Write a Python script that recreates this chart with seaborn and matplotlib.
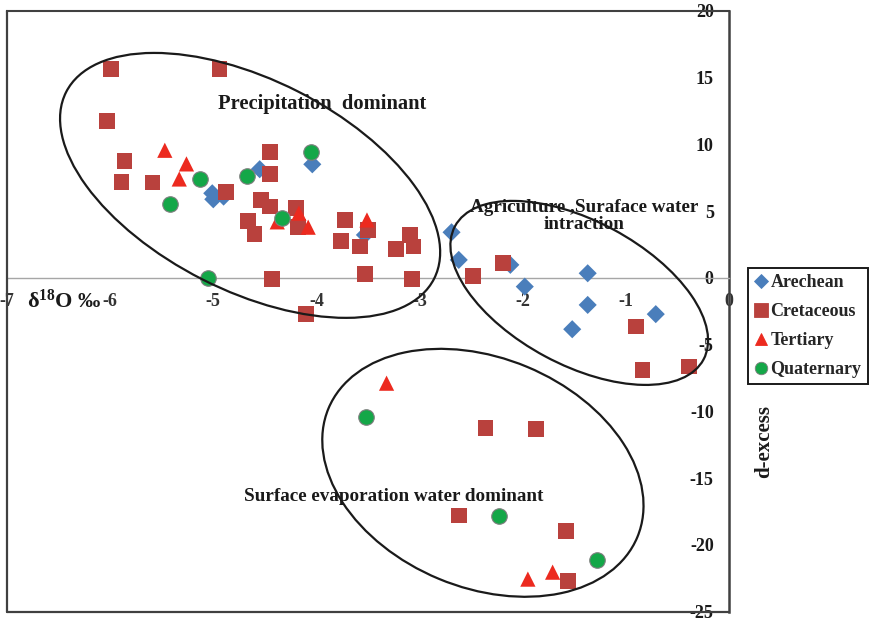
import matplotlib
matplotlib.use("Agg")
import matplotlib.pyplot as plt
import seaborn as sns
import pandas as pd
from matplotlib.lines import Line2D
from matplotlib.patches import Ellipse
from matplotlib.transforms import ScaledTranslation

# ---- isotope data: delta 18O (permil) vs deuterium excess ----
series_names = ["Arechean", "Cretaceous", "Tertiary", "Quaternary"]

arechean_d18o = [-4.55, -4.04, -5.01, -5.00, -4.90, -3.53, -2.69, -2.62, -2.12,
                 -1.98, -1.37, -1.37, -1.52, -0.71]
arechean_dex = [8.13, 8.50, 6.33, 5.88, 6.08, 3.21, 3.41, 1.34, 0.97,
                -0.66, 0.34, -2.03, -3.85, -2.72]

cretaceous_d18o = [-5.99, -4.94, -6.03, -5.86, -5.89, -5.59, -4.88, -4.45, -4.45,
                   -4.54, -4.45, -4.66, -4.60, -4.20, -4.18, -3.72, -3.76, -3.58,
                   -3.50, -3.23, -3.09, -3.06, -4.43, -3.53, -3.07, -4.10, -2.48,
                   -2.19, -0.90, -0.84, -0.39, -2.36, -1.87, -2.62, -1.58, -1.56]
cretaceous_dex = [15.61, 15.61, 11.74, 8.75, 7.20, 7.13, 6.41, 9.40, 7.78,
                  5.83, 5.33, 4.28, 3.30, 5.21, 3.83, 4.33, 2.78, 2.34,
                  3.59, 2.14, 3.21, 2.34, -0.10, 0.27, -0.10, -2.70, 0.16,
                  1.09, -3.65, -6.89, -6.65, -11.26, -11.31, -17.80, -18.94, -22.69]

tertiary_d18o = [-5.47, -5.26, -5.33, -4.17, -4.38, -4.08, -3.51, -3.32, -1.95, -1.71]
tertiary_dex = [9.55, 8.53, 7.40, 4.84, 4.19, 3.79, 4.33, -7.89, -22.56, -22.04]

quaternary_d18o = [-4.05, -5.13, -4.67, -5.42, -4.33, -5.05, -3.52, -2.23, -1.28]
quaternary_dex = [9.45, 7.40, 7.65, 5.51, 4.46, -0.03, -10.43, -17.87, -21.11]

x_ticks = [-7, -6, -5, -4, -3, -2, -1, 0]
y_ticks = [-25, -20, -15, -10, -5, 0, 5, 10, 15, 20]

# ---- styling ----
colors = {"Arechean": "#4a7ebb", "Cretaceous": "#b9413d",
          "Tertiary": "#ec2a1f", "Quaternary": "#14a748"}
markers = {"Arechean": "D", "Cretaceous": "s", "Tertiary": "^", "Quaternary": "o"}
sizes = {"Arechean": 85, "Cretaceous": 128, "Tertiary": 120, "Quaternary": 125}
edges = {"Arechean": "none", "Cretaceous": "none", "Tertiary": "none", "Quaternary": "#7f7f7f"}

sns.set_theme(style="white")
plt.rcParams["font.family"] = ["Liberation Serif", "DejaVu Serif"]
plt.rcParams["font.weight"] = "bold"
plt.rcParams["mathtext.fontset"] = "custom"
plt.rcParams["mathtext.rm"] = "Liberation Serif:bold"
plt.rcParams["mathtext.bf"] = "Liberation Serif:bold"
plt.rcParams["mathtext.it"] = "Liberation Serif:bold:italic"

frames = []
for name, xs, ys in [("Arechean", arechean_d18o, arechean_dex),
                     ("Cretaceous", cretaceous_d18o, cretaceous_dex),
                     ("Tertiary", tertiary_d18o, tertiary_dex),
                     ("Quaternary", quaternary_d18o, quaternary_dex)]:
    frames.append(pd.DataFrame({"d18O": xs, "dexcess": ys, "Series": name}))
df = pd.concat(frames, ignore_index=True)

fig = plt.figure(figsize=(8.7, 6.19), dpi=100)
ax = fig.add_axes([7 / 870, 7.3 / 619, 722 / 870, 601 / 619])

for name in series_names:
    sub = df[df["Series"] == name]
    sns.scatterplot(data=sub, x="d18O", y="dexcess", ax=ax, color=colors[name],
                    marker=markers[name], s=sizes[name], edgecolor=edges[name],
                    linewidth=0.8 if edges[name] != "none" else 0,
                    legend=False, zorder=3)

ax.set_xlim(-7, 0)
ax.set_ylim(-25, 20)
ax.set_xticks(x_ticks)
ax.set_yticks(y_ticks)
ax.set_xticklabels([str(t) for t in x_ticks])
ax.set_yticklabels([str(t) for t in y_ticks])
ax.set_xlabel("")
ax.set_ylabel("")

# axes cross at the origin; the plot area keeps a frame of its own
ax.spines["left"].set_position(("data", 0))
ax.spines["left"].set_color("#404040")
ax.spines["left"].set_linewidth(1.8)
ax.spines["bottom"].set_position(("data", 0))
ax.spines["bottom"].set_color("#a6a6a6")
ax.spines["bottom"].set_linewidth(1.0)
ax.spines["right"].set_visible(False)
ax.spines["top"].set_color("#404040")
ax.spines["top"].set_linewidth(1.5)
for xs_, ys_ in [([0, 0], [0, 1]), ([0, 1], [0, 0])]:
    ax.plot(xs_, ys_, transform=ax.transAxes, color="#404040", lw=1.6,
            clip_on=False, zorder=5)

ax.tick_params(axis="x", direction="in", length=4, width=1, color="#8c8c8c",
               pad=11, labelsize=13, labelcolor="#333333")
ax.tick_params(axis="y", direction="out", length=5, width=1, color="#595959",
               pad=6, labelsize=13, labelcolor="#1a1a1a")
for lbl in ax.get_xticklabels() + ax.get_yticklabels():
    lbl.set_fontweight("bold")

ax.text(-6.81, -1.75, "δ$^{18}$O ‰", fontsize=16, fontweight="bold",
        ha="left", va="center", color="#1a1a1a")
fig.text(764 / 870, 1 - 441 / 619, "d-excess", rotation=90, fontsize=15,
         fontweight="bold", ha="center", va="center", color="#1a1a1a")


# grouping rings: centre in data units, semi-axes in inches, tilt in degrees
def ring(cx, cy, a_in, b_in, tilt):
    tr = fig.dpi_scale_trans + ScaledTranslation(cx, cy, ax.transData)
    ax.add_patch(Ellipse((0, 0), 2 * a_in, 2 * b_in, angle=-tilt, transform=tr,
                         fill=False, ec="#1a1a1a", lw=1.6, zorder=4))


ring(-4.643, 6.92, 2.063, 1.054, 26.9)
ring(-1.452, -1.13, 1.41, 0.72, 28.2)
ring(-2.386, -14.60, 1.673, 1.148, 22.6)

ax.text(-4.953, 13.0, "Precipitation  dominant", fontsize=14.8, fontweight="bold",
        ha="left", va="center", color="#1a1a1a", zorder=6)
ax.text(-1.408, 4.6, "Agriculture ,Suraface water\nintraction", fontsize=13.8,
        fontweight="bold", ha="center", va="center", linespacing=1.0,
        color="#1a1a1a", zorder=6)
ax.text(-4.70, -16.35, "Surface evaporation water dominant", fontsize=13.8,
        fontweight="bold", ha="left", va="center", color="#1a1a1a", zorder=6)

ax.set_xlim(-7, 0)
ax.set_ylim(-25, 20)

handles = [Line2D([], [], linestyle="", marker=markers[n], color=colors[n],
                  markersize={"Arechean": 7, "Cretaceous": 10, "Tertiary": 9,
                              "Quaternary": 9}[n],
                  markeredgecolor=edges[n] if edges[n] != "none" else colors[n],
                  markeredgewidth=0.6)
           for n in series_names]
leg = fig.legend(handles, series_names, loc="upper left",
                 bbox_to_anchor=(748 / 870, 1 - 268 / 619), borderaxespad=0,
                 frameon=True, fancybox=False, edgecolor="#1a1a1a",
                 prop={"family": "Liberation Serif", "weight": "bold", "size": 13},
                 handlelength=0.7, handletextpad=0.2, labelspacing=0.66,
                 borderpad=0.35, framealpha=1)
leg.get_frame().set_linewidth(1.4)

fig.savefig("out.png", dpi=100)
